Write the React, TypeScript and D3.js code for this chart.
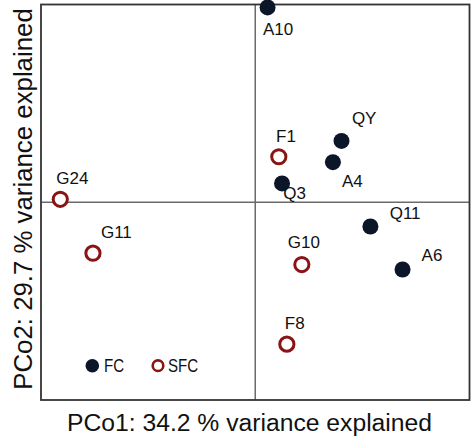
import React from "react";
import * as d3 from "d3";

const names = ["A10", "QY", "A4", "F1", "Q3", "Q11", "A6", "G10", "F8", "G24", "G11"];
const groups = ["FC", "FC", "FC", "SFC", "FC", "FC", "FC", "SFC", "SFC", "SFC", "SFC"];
const pco1 = [0.023, 0.161, 0.145, 0.044, 0.05, 0.215, 0.275, 0.087, 0.059, -0.364, -0.303];
const pco2 = [0.394, 0.124, 0.081, 0.092, 0.038, -0.049, -0.136, -0.126, -0.287, 0.006, -0.103];
// label offsets in px (dx, dy of text start/baseline from point)
const labelDx = [-4.6, 10.4, 9, -2.7, 1.3, 19.3, 19, -14, -2, -4, 8];
const labelDy = [27.7, -17.4, 25, -15, 15.7, -7.4, -8.6, -16.6, -15.3, -15.3, -15.6];
const legendGroups = ["FC", "SFC"];

const W = 472;
const H = 439;
const left = 41, right = 469.5, top = 4.5, bottom = 400;
const NAVY = "#0b1628";
const RED = "#8a1414";

export default function App() {
  const x = d3.scaleLinear().domain([-0.4, 0.4]).range([left, right]);
  const y = d3.scaleLinear().domain([-0.4, 0.4]).range([bottom, top]);
  const font = "'Liberation Sans', Arial, Helvetica, sans-serif";
  const legendX = [92.3, 158];
  const legendY = 365.7;
  return (
    <svg width={W} height={H} style={{ position: "absolute", left: 0, top: 0 }} fontFamily={font}>
      <rect x={0} y={0} width={W} height={H} fill="#fff" />
      <line x1={x(0)} x2={x(0)} y1={top} y2={bottom} stroke="#6b6b6b" strokeWidth={1.5} />
      <line x1={left} x2={right} y1={y(0)} y2={y(0)} stroke="#6b6b6b" strokeWidth={1.5} />
      <rect x={left} y={top} width={right - left} height={bottom - top} fill="none" stroke="#333" strokeWidth={1.8} />
      {names.map((n, i) => {
        const cx = x(pco1[i]);
        const cy = y(pco2[i]);
        return (
          <g key={n}>
            {groups[i] === "FC" ? (
              <circle cx={cx} cy={cy} r={8} fill={NAVY} />
            ) : (
              <circle cx={cx} cy={cy} r={7.1} fill="#fff" stroke={RED} strokeWidth={3} />
            )}
            <text x={cx + labelDx[i]} y={cy + labelDy[i]} fontSize={17} fill="#111">{n}</text>
          </g>
        );
      })}
      {legendGroups.map((g, i) => (
        <g key={g}>
          {g === "FC" ? (
            <circle cx={legendX[i]} cy={legendY} r={6.8} fill={NAVY} />
          ) : (
            <circle cx={legendX[i]} cy={legendY} r={5.3} fill="#fff" stroke={RED} strokeWidth={2.6} />
          )}
          <text
            x={0}
            y={0}
            fontSize={18}
            fill="#111"
            transform={`translate(${legendX[i] + (g === "FC" ? 11.7 : 10)},${legendY + 6.5}) scale(0.84,1)`}
          >
            {g}
          </text>
        </g>
      ))}
      <text x={249.5} y={431} fontSize={24.7} textAnchor="middle" fill="#111">
        PCo1: 34.2 % variance explained
      </text>
      <text transform={`translate(32,199) rotate(-90)`} fontSize={25.8} textAnchor="middle" fill="#111">
        PCo2: 29.7 % variance explained
      </text>
    </svg>
  );
}
